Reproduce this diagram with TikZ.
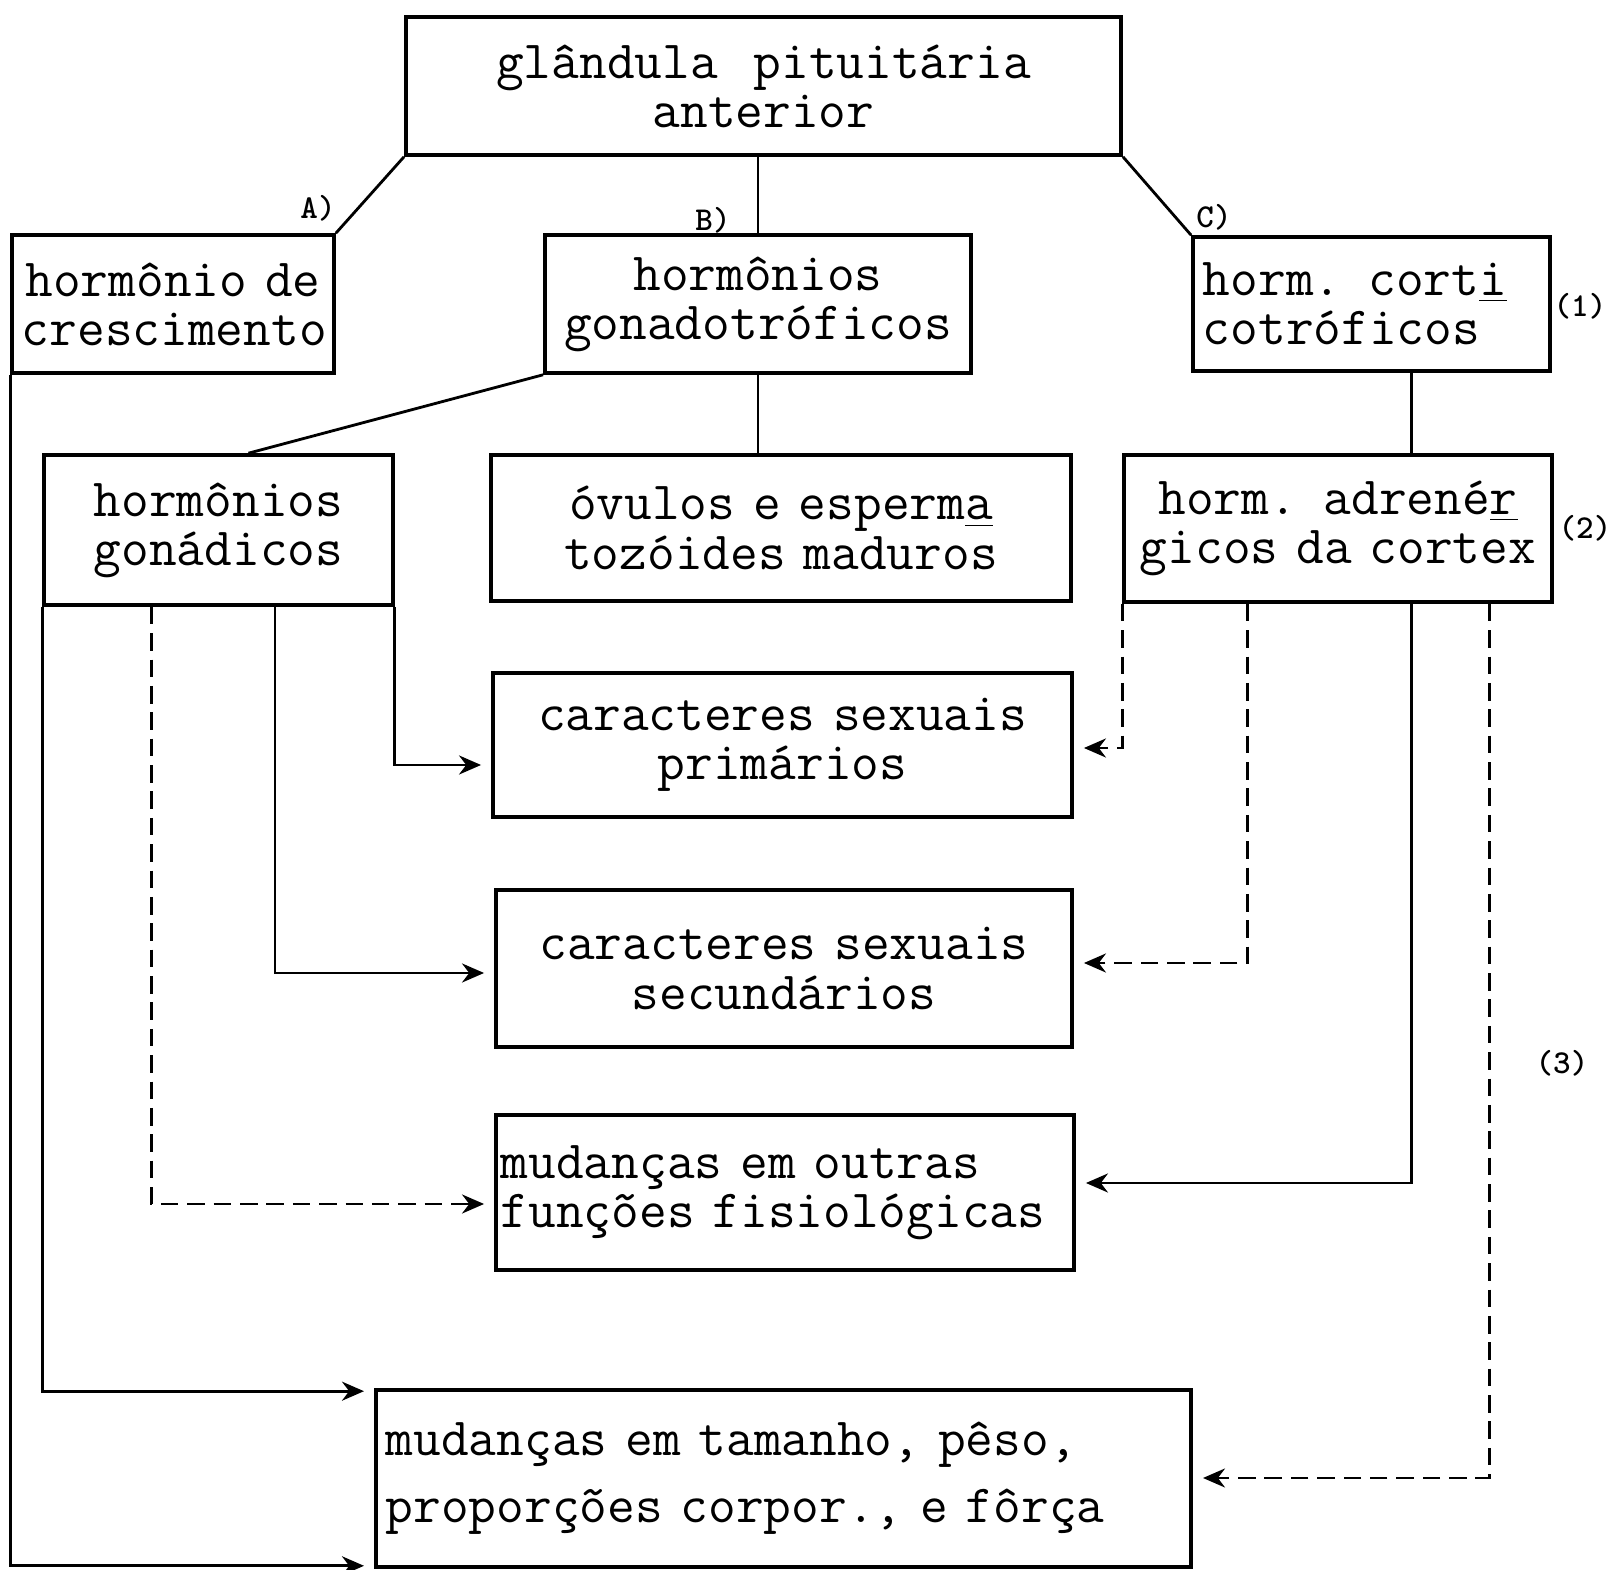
\documentclass[tikz,border=0pt]{standalone}
\usepackage{fontspec}
\usepackage{tikz}
\usetikzlibrary{
  arrows.meta,
  positioning,
  calc
}
\tikzset{
  hbox/.style={
    draw,
    line width=1pt,
    inner xsep=1mm,
    inner ysep=0pt,
    align=center,
    font=\ttfamily\fontsize{15.3}{14}\selectfont
  },
  flow/.style={->, line width=0.8pt, shorten >=1mm},
  dflow/.style={flow, dash pattern=on 5pt off 2.5pt},
  link/.style={line width=0.8pt},
  tag/.style={font=\ttfamily\bfseries\fontsize{9.5}{9.5}\selectfont, inner sep=0pt}
}

\begin{document}
\begin{tikzpicture}[x=0.01cm, y=-0.01cm, >={Stealth[length=2.2mm,width=1.9mm]}]
    \useasboundingbox (0,0) rectangle (1620,1570);

    \node[hbox, text width=69.5mm, minimum height=13.8mm] (pituit) at (763.5,86)
      {glândula~ pituitária\\anterior};

    \node[hbox, text width=30.2mm, minimum height=13.8mm] (growth) at (173,304)
      {hormônio de\\crescimento};
    \node[hbox, text width=40.6mm, minimum height=13.8mm] (gonadotr) at (758,304)
      {hormônios\\gonadotróficos};
    \node[hbox, text width=33.7mm, minimum height=13.4mm, align=left] (cortico) at (1371.5,304)
      {horm. cort\underline{i}\\cotróficos};

    \node[hbox, text width=32.9mm, minimum height=15mm] (gonadic) at (218.5,530)
      {hormônios\\gonádicos};
    \node[hbox, text width=56mm, minimum height=14.6mm] (ovulos) at (781,528)
      {óvulos e esperm\underline{a}\\tozóides maduros};
    \node[hbox, text width=40.8mm, minimum height=14.7mm] (adren) at (1338,528.5)
      {horm. adrené\underline{r}\\gicos da cortex};

    \node[hbox, text width=55.9mm, minimum height=14.4mm] (primary) at (782.5,745)
      {caracteres sexuais\\primários};
    \node[hbox, text width=55.6mm, minimum height=15.7mm] (secondary) at (784,968.5)
      {caracteres sexuais\\secundários};
    \node[hbox, text width=56.8mm, inner xsep=0.5mm, minimum height=15.5mm, align=left] (physio) at (785,1192.5)
      {mudanças em outras\\funções fisiológicas};
    \node[hbox, text width=79.5mm, minimum height=17.7mm, align=left,
      font=\ttfamily\fontsize{15.3}{19}\selectfont] (body) at (783.5,1478.5)
      {mudanças em tamanho, pêso,\\proporções corpor., e fôrça};

    % tags
    \node[tag] (tagA) at (318,208) {A)};
    \node[tag] (tagB) at (713,220) {B)};
    \node[tag] (tagC) at (1214,217) {C)};
    \node[tag] (tag1) at (1580,306) {(1)};
    \node[tag] (tag2) at (1585,528) {(2)};
    \node[tag] (tag3) at (1562,1063) {(3)};

    % pituitary
    \draw[link] (pituit.south west) -- (growth.north east);
    \draw[link] (gonadotr.north |- pituit.south) -- (gonadotr.north);
    \draw[link] (pituit.south east) -- (cortico.north west);

    \draw[link] (gonadotr.south west) --
      ($(gonadic.north west)!0.585!(gonadic.north east)$);
    \draw[link] (gonadotr.south) -- (gonadotr.south |- ovulos.north);
    \coordinate (cx) at ($(cortico.south)+(40,0)$);
    \draw[link] (cx) -- (cx |- adren.north);

    % gonadic hormones
    \draw[flow] (gonadic.south east) |- ($(primary.west)+(0,20)$);
    \draw[flow] ($(gonadic.south west)!0.66!(gonadic.south east)$)
      |- ($(secondary.west)+(0,4.5)$);
    \draw[dflow] ($(gonadic.south west)!0.31!(gonadic.south east)$)
      |- ($(physio.west)+(0,11.5)$);
    \draw[flow] (gonadic.south west) |- ($(body.north west)+(0,3)$);
    \draw[flow] (growth.south west) |- ($(body.south west)+(0,-3)$);

    % adrenal hormones
    \draw[dflow] (adren.south west) |- ($(primary.east)+(0,3)$);
    \draw[dflow] ($(adren.south west)!0.29!(adren.south east)$)
      |- ($(secondary.east)+(0,-5.5)$);
    \draw[flow] (cx |- adren.south) |- ($(physio.east)+(0,-9.5)$);
    \draw[dflow] ($(adren.south west)!0.85!(adren.south east)$)
      |- ($(body.east)+(0,-0.5)$);
\end{tikzpicture}
\end{document}
